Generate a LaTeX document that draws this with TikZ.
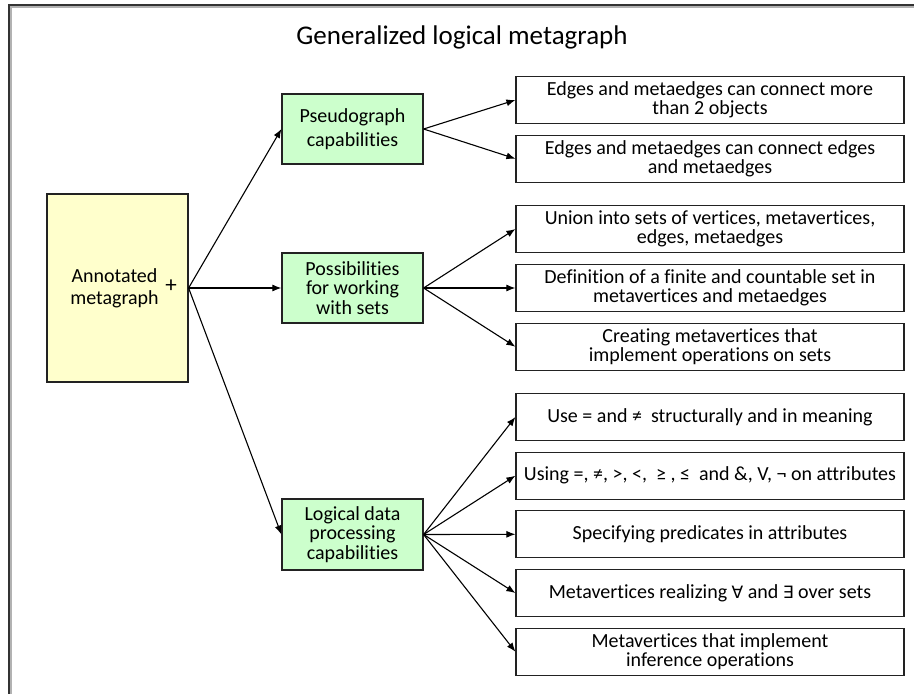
\documentclass[tikz,border=0pt]{standalone}
\usepackage{fontspec}
\setmainfont{Carlito}[Ligatures=NoCommon]
\newfontfamily\symf{DejaVu Sans}
\usetikzlibrary{arrows.meta}
\definecolor{yfill}{HTML}{FFFFCC}
\definecolor{gfill}{HTML}{CCFFCC}
\definecolor{edge}{HTML}{222222}
\begin{document}
\begin{tikzpicture}[x=1pt,y=-1pt,
  wbox/.style={draw=edge, line width=1.2pt, fill=white, minimum width=388pt, minimum height=47pt, inner sep=0pt, align=center, font=\fontsize{20}{19.5}\selectfont},
  gbox/.style={draw=edge, line width=1.2pt, fill=gfill, minimum width=141pt, minimum height=70pt, inner sep=0pt, align=center, font=\fontsize{20}{19.5}\selectfont},
  ybox/.style={draw=edge, line width=1.2pt, fill=yfill, minimum width=141pt, minimum height=188pt, inner sep=0pt},
  arr/.style={-{Latex[length=9pt,width=7pt]}, line width=1.1pt, draw=black},
  txt/.style={inner sep=0pt, align=center}
]
\useasboundingbox (0,0) rectangle (914,694);
\fill[white] (0,0) rectangle (914,694);
% frame (cropped)
\draw[line width=2.2pt, gray!60] (10.5,694) -- (10.5,6.5) -- (914,6.5);
\draw[line width=1.3pt, black!80] (9,694) -- (9,5) -- (914,5);

\node[txt, font=\fontsize{27}{27}\selectfont] (title) at (462,37) {Generalized logical metagraph};

\node[ybox] (am) at (117.5,288) {};
\node[txt, font=\fontsize{20}{22}\selectfont] (amt) at (114.5,288) {Annotated\\metagraph};
\node[txt, font=\fontsize{23}{23}\selectfont] (plus) at (171,286) {+};

\node[gbox, font=\fontsize{20}{24}\selectfont] (pg) at (352.5,129) {Pseudograph\\capabilities};
\node[gbox] (ps) at (352.5,288) {Possibilities\\for working\\with sets};
\node[gbox, minimum height=71pt] (ld) at (352.5,534.5) {Logical data\\processing\\capabilities};

\node[wbox] (b1) at (710,100) {Edges and metaedges can connect more\\than 2 objects};
\node[wbox] (b2) at (710,158.7) {Edges and metaedges can connect edges\\and metaedges};
\node[wbox] (b3) at (710,229) {Union into sets of vertices, metavertices,\\edges, metaedges};
\node[wbox] (b4) at (710,288) {Definition of a finite and countable set in\\metavertices and metaedges};
\node[wbox] (b5) at (710,346.7) {Creating metavertices that\\implement operations on sets};
\node[wbox] (b6) at (710,417) {Use = and ≠~ structurally and in meaning};
\node[wbox] (b7) at (710,475.7) {Using =, ≠, >, <,~ ≥ , ≤~ and \&, V, ¬ on attributes};
\node[wbox] (b8) at (710,534.3) {Specifying predicates in attributes};
\node[wbox] (b9) at (710,593) {Metavertices realizing {\symf\fontsize{17}{17}\selectfont ∀} and {\symf\fontsize{17}{17}\selectfont ∃} over sets};
\node[wbox] (b10) at (710,651.7) {Metavertices that implement\\inference operations};

\draw[arr] (am.east) -- (pg.west);
\draw[arr] (am.east) -- (ps.west);
\draw[arr] (am.east) -- (ld.west);

\draw[arr] (pg.east) -- (b1.west);
\draw[arr] (pg.east) -- (b2.west);
\draw[arr] (ps.east) -- (b3.west);
\draw[arr] (ps.east) -- (b4.west);
\draw[arr] (ps.east) -- (b5.west);
\draw[arr] (ld.east) -- (b6.west);
\draw[arr] (ld.east) -- (b7.west);
\draw[arr] (ld.east) -- (b8.west);
\draw[arr] (ld.east) -- (b9.west);
\draw[arr] (ld.east) -- (b10.west);
\end{tikzpicture}
\end{document}
